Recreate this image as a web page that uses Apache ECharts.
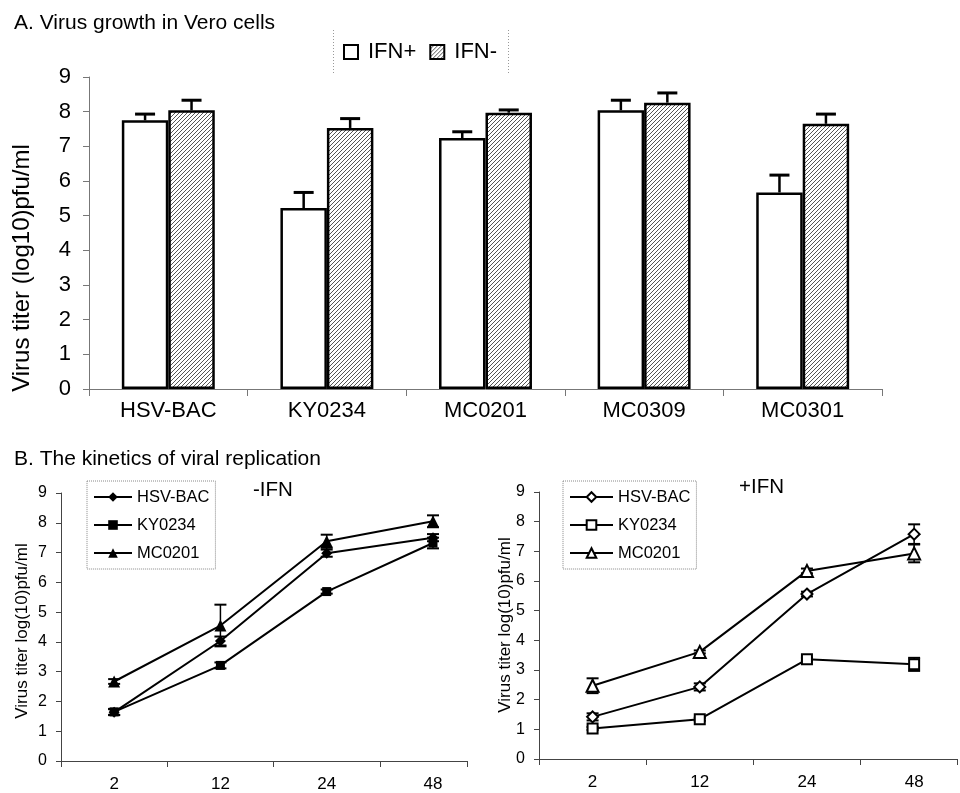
<!DOCTYPE html>
<html>
<head>
<meta charset="utf-8">
<script src="https://cdn.jsdelivr.net/npm/echarts@6/dist/echarts.min.js"></script>
<style>
html,body{margin:0;padding:0;background:#fff;}
#main{width:960px;height:793px;}
</style>
</head>
<body>
<div id="main"></div>
<script>
// ---------- DATA ----------
const CATS_A = ['HSV-BAC', 'KY0234', 'MC0201', 'MC0309', 'MC0301'];
const IFN_POS = [7.75, 5.22, 7.24, 8.04, 5.67];
const IFN_POS_ERR = [0.18, 0.45, 0.18, 0.29, 0.50];
const IFN_NEG = [8.04, 7.53, 7.97, 8.26, 7.65];
const IFN_NEG_ERR = [0.29, 0.27, 0.08, 0.28, 0.28];

const HOURS = ['2', '12', '24', '48'];
const STRAINS = ['HSV-BAC', 'KY0234', 'MC0201'];

// -IFN kinetics
const MINUS_HSV = [1.64, 4.03, 6.98, 7.50];
const MINUS_HSV_ERR = [0.10, 0.15, 0.12, 0.12];
const MINUS_KY = [1.65, 3.21, 5.69, 7.32];
const MINUS_KY_ERR = [0.10, 0.10, 0.07, 0.18];
const MINUS_MC = [2.67, 4.55, 7.38, 8.05];
const MINUS_MC_ERR = [0.08, 0.70, 0.22, 0.20];

// +IFN kinetics
const PLUS_HSV = [1.42, 2.43, 5.56, 7.58];
const PLUS_HSV_ERR = [0.12, 0.12, 0.08, 0.33];
const PLUS_KY = [1.03, 1.34, 3.36, 3.19];
const PLUS_KY_ERR = [0.05, 0.05, 0.05, 0.22];
const PLUS_MC = [2.47, 3.61, 6.34, 6.93];
const PLUS_MC_ERR = [0.25, 0.05, 0.08, 0.30];

const Y_MIN = 0, Y_MAX = 9, Y_STEP = 1;

// ---------- STYLE ----------
const FONT = '"Liberation Sans", Arial, Helvetica, sans-serif';
const BAR_FRAC = 0.293;
const AXIS_COLOR_TOP = '#777';
const AXIS_COLOR_BOT = '#444';

function hatchPattern() {
  const s = 4;
  const c = document.createElement('canvas');
  c.width = s; c.height = s;
  const g = c.getContext('2d');
  g.fillStyle = '#fff';
  g.fillRect(0, 0, s, s);
  g.strokeStyle = '#555';
  g.lineWidth = 1;
  g.beginPath();
  g.moveTo(-1, s + 1); g.lineTo(s + 1, -1);
  g.moveTo(-1, 1); g.lineTo(1, -1);
  g.moveTo(s - 1, s + 1); g.lineTo(s + 1, s - 1);
  g.stroke();
  return c;
}

function ln(x1, y1, x2, y2, w) {
  return { type: 'line', shape: { x1, y1, x2, y2 }, style: { stroke: '#000', lineWidth: w } };
}

function barErr(sign) {
  return function (params, api) {
    const i = api.value(0), v = api.value(1), e = api.value(2);
    const band = api.size([1, 0])[0];
    const off = sign * band * BAR_FRAC / 2;
    const p = api.coord([i, v]);
    const t = api.coord([i, v + e]);
    const x = p[0] + off;
    return { type: 'group', children: [ln(x, p[1], x, t[1], 2.5), ln(x - 10, t[1], x + 10, t[1], 3)] };
  };
}

function lineErr(params, api) {
  const x = api.value(0), y = api.value(1), e = api.value(2);
  const c = api.coord([x, y]);
  const t = api.coord([x, y + e]);
  const b = api.coord([x, y - e]);
  const w = 6;
  return { type: 'group', children: [
    ln(c[0], t[1], c[0], b[1], 1.5),
    ln(c[0] - w, t[1], c[0] + w, t[1], 2),
    ln(c[0] - w, b[1], c[0] + w, b[1], 2)
  ] };
}

const pts = (vals) => vals.map((v, i) => [i + 0.5, v]);
const errPts = (vals, errs) => vals.map((v, i) => [i + 0.5, v, errs[i]]);

const hatch = hatchPattern();

function lineSeries(name, vals, symbol, size, xi, yi) {
  return {
    type: 'line', name, data: pts(vals), xAxisIndex: xi, yAxisIndex: yi,
    symbol, symbolSize: size, showAllSymbol: true, z: 3,
    lineStyle: { color: '#000', width: 2 },
    itemStyle: { color: '#000', borderColor: '#000', borderWidth: symbol.startsWith('empty') ? 1.5 : 0 }
  };
}
function errSeries(vals, errs, xi, yi) {
  return { type: 'custom', name: 'err', renderItem: lineErr, data: errPts(vals, errs), xAxisIndex: xi, yAxisIndex: yi, z: 1, silent: true };
}

const yAxisBottom = (gi) => ({
  type: 'value', gridIndex: gi, min: Y_MIN, max: Y_MAX, interval: Y_STEP,
  axisLine: { show: true, lineStyle: { color: AXIS_COLOR_BOT } },
  axisTick: { show: true, length: 5, lineStyle: { color: AXIS_COLOR_BOT } },
  splitLine: { show: false },
  axisLabel: { color: '#000', fontSize: 16, fontFamily: FONT, margin: 14 }
});
const xLineAxis = (gi, max) => ({
  type: 'value', gridIndex: gi, position: 'bottom', min: 0, max, interval: 1,
  axisLine: { show: true, onZero: false, lineStyle: { color: AXIS_COLOR_BOT } },
  axisTick: { show: true, length: 6, lineStyle: { color: AXIS_COLOR_BOT } },
  axisLabel: { show: false }, splitLine: { show: false }
});
const xLabelAxis = (gi, max) => ({
  type: 'value', gridIndex: gi, position: 'bottom', min: 0, max, interval: 0.5,
  axisLine: { show: false, onZero: false }, axisTick: { show: false }, splitLine: { show: false },
  axisLabel: {
    color: '#000', fontSize: 17, fontFamily: FONT, margin: 15, showMinLabel: true, showMaxLabel: true,
    formatter: (v) => (Math.abs(v - Math.round(v)) > 0.25 ? HOURS[Math.floor(v)] : '')
  }
});

const legendBottom = (left, data, iw) => ({
  orient: 'vertical', left, top: 481, data,
  itemWidth: iw, itemHeight: 12, itemGap: 8,
  padding: [6, 6, 6, 6],
  borderColor: '#888', borderWidth: 1, borderType: 'dotted',
  formatter: (n) => n.trim(),
  textStyle: { color: '#000', fontSize: 16.5, fontFamily: FONT, lineHeight: 20 }
});

const RIGHT_NAMES = STRAINS.map((s) => s + ' ');

const option = {
  animation: false,
  backgroundColor: '#fff',
  textStyle: { fontFamily: FONT },
  title: [
    { text: 'A. Virus growth in Vero cells', left: 9, top: 8, textStyle: { fontSize: 21, fontWeight: 'normal', color: '#000', fontFamily: FONT } },
    { text: 'B. The kinetics of viral replication', left: 9, top: 444, textStyle: { fontSize: 21, fontWeight: 'normal', color: '#000', fontFamily: FONT } },
    { text: '-IFN', left: 248, top: 475, textStyle: { fontSize: 20.5, fontWeight: 'normal', color: '#000', fontFamily: FONT } },
    { text: '+IFN', left: 734, top: 472, textStyle: { fontSize: 20.5, fontWeight: 'normal', color: '#000', fontFamily: FONT } }
  ],
  legend: [
    {
      data: [{ name: 'IFN+', icon: 'rect' }, { name: 'IFN-', icon: 'rect' }], left: 338, top: 36, itemWidth: 14, itemHeight: 14, itemGap: 13,
      textStyle: { color: '#000', fontSize: 22, fontFamily: FONT, padding: [0, 0, 0, 5] }
    },
    legendBottom(87, STRAINS, 38),
    legendBottom(563, RIGHT_NAMES, 43)
  ],
  grid: [
    { left: 89, right: 78, top: 77, bottom: 404 },
    { left: 61, top: 493, width: 406, height: 268 },
    { left: 539, top: 492, width: 421, height: 267 }
  ],
  xAxis: [
    {
      type: 'category', gridIndex: 0, data: CATS_A,
      axisLine: { show: true, lineStyle: { color: AXIS_COLOR_TOP } },
      axisTick: { show: true, length: 7, lineStyle: { color: AXIS_COLOR_TOP } },
      axisLabel: { color: '#000', fontSize: 22, fontFamily: FONT, margin: 11 }
    },
    xLineAxis(1, 3.82),
    xLabelAxis(1, 3.82),
    xLineAxis(2, 3.9),
    xLabelAxis(2, 3.9)
  ],
  yAxis: [
    {
      type: 'value', gridIndex: 0, min: Y_MIN, max: Y_MAX, interval: Y_STEP,
      axisLine: { show: true, lineStyle: { color: AXIS_COLOR_TOP } },
      axisTick: { show: true, length: 6, lineStyle: { color: AXIS_COLOR_TOP } },
      splitLine: { show: false },
      axisLabel: { color: '#000', fontSize: 22, fontFamily: FONT, margin: 18 }
    },
    yAxisBottom(1),
    yAxisBottom(2)
  ],
  graphic: [
    { type: 'line', shape: { x1: 333.5, y1: 30, x2: 333.5, y2: 73 }, style: { stroke: '#999', lineWidth: 1, lineDash: [1, 2] } },
    { type: 'line', shape: { x1: 508.5, y1: 30, x2: 508.5, y2: 73 }, style: { stroke: '#999', lineWidth: 1, lineDash: [1, 2] } },
    { type: 'text', x: 22, y: 268, rotation: Math.PI / 2, style: { text: 'Virus titer (log10)pfu/ml', fontSize: 24, fontFamily: FONT, fill: '#000', align: 'center', verticalAlign: 'middle' } },
    { type: 'text', x: 22, y: 631, rotation: Math.PI / 2, style: { text: 'Virus titer log(10)pfu/ml', fontSize: 17, fontFamily: FONT, fill: '#000', align: 'center', verticalAlign: 'middle' } },
    { type: 'text', x: 505, y: 625, rotation: Math.PI / 2, style: { text: 'Virus titer log(10)pfu/ml', fontSize: 17, fontFamily: FONT, fill: '#000', align: 'center', verticalAlign: 'middle' } }
  ],
  series: [
    {
      type: 'bar', name: 'IFN+', data: IFN_POS, xAxisIndex: 0, yAxisIndex: 0,
      barWidth: (BAR_FRAC * 100) + '%', barGap: '0%',
      itemStyle: { color: '#fff', borderColor: '#000', borderWidth: 2.5 }
    },
    {
      type: 'bar', name: 'IFN-', data: IFN_NEG, xAxisIndex: 0, yAxisIndex: 0,
      barWidth: (BAR_FRAC * 100) + '%', barGap: '0%',
      itemStyle: { color: { image: hatch, repeat: 'repeat' }, borderColor: '#000', borderWidth: 2.5 }
    },
    { type: 'custom', name: 'errPos', renderItem: barErr(-1), data: IFN_POS.map((v, i) => [i, v, IFN_POS_ERR[i]]), xAxisIndex: 0, yAxisIndex: 0, z: 3, silent: true },
    { type: 'custom', name: 'errNeg', renderItem: barErr(1), data: IFN_NEG.map((v, i) => [i, v, IFN_NEG_ERR[i]]), xAxisIndex: 0, yAxisIndex: 0, z: 3, silent: true },

    errSeries(MINUS_HSV, MINUS_HSV_ERR, 1, 1),
    errSeries(MINUS_KY, MINUS_KY_ERR, 1, 1),
    errSeries(MINUS_MC, MINUS_MC_ERR, 1, 1),
    lineSeries(STRAINS[0], MINUS_HSV, 'diamond', 11, 1, 1),
    lineSeries(STRAINS[1], MINUS_KY, 'rect', 9, 1, 1),
    lineSeries(STRAINS[2], MINUS_MC, 'triangle', 12, 1, 1),

    errSeries(PLUS_HSV, PLUS_HSV_ERR, 3, 2),
    errSeries(PLUS_KY, PLUS_KY_ERR, 3, 2),
    errSeries(PLUS_MC, PLUS_MC_ERR, 3, 2),
    lineSeries(RIGHT_NAMES[0], PLUS_HSV, 'emptyDiamond', 11, 3, 2),
    lineSeries(RIGHT_NAMES[1], PLUS_KY, 'emptyRect', 10, 3, 2),
    lineSeries(RIGHT_NAMES[2], PLUS_MC, 'emptyTriangle', 12, 3, 2)
  ]
};

const chart = echarts.init(document.getElementById('main'), null, { renderer: 'canvas' });
chart.setOption(option);
</script>
</body>
</html>
